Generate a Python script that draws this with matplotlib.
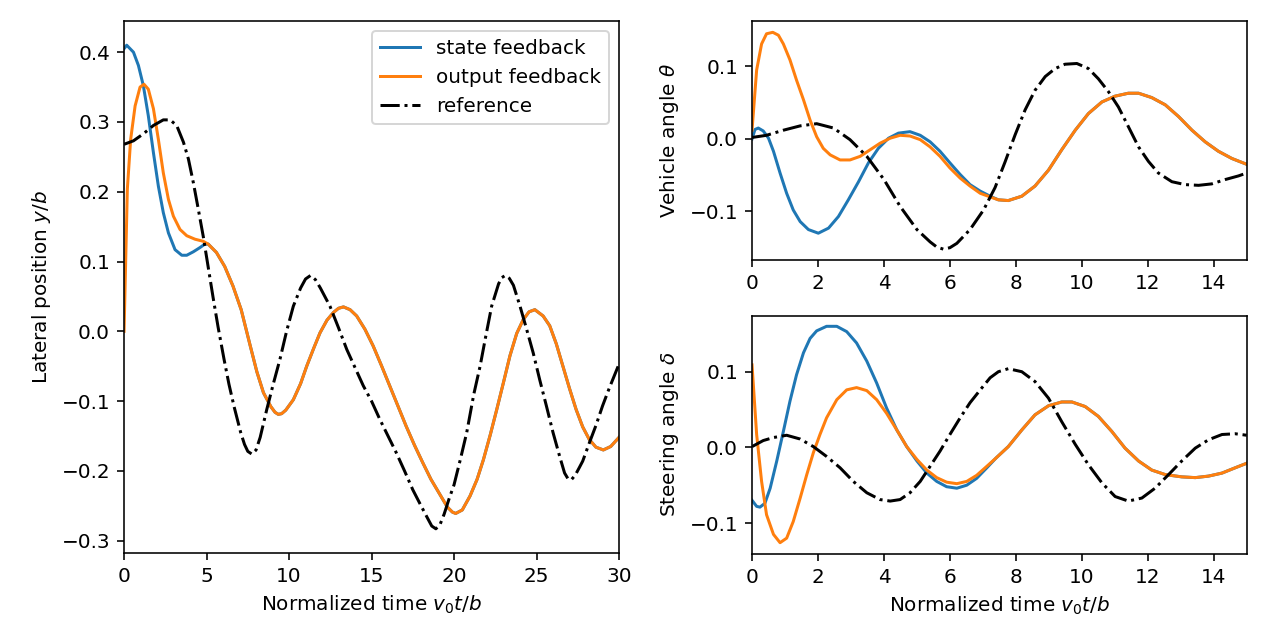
import matplotlib
matplotlib.use("Agg")
import matplotlib.pyplot as plt

# lateral position y/b (left panel)
t_left_of = [0, 0.2, 0.4, 0.67, 0.97, 1.21, 1.47, 1.78, 2.08, 2.38, 2.69, 2.99, 3.39, 3.8,
             4.3, 4.8, 5.1, 5.6, 6.1, 6.6, 7.1, 7.64, 8.05, 8.45, 8.9, 9.15, 9.35, 9.55,
             9.8, 10.26, 10.7, 11.07, 11.5, 11.88, 12.3, 12.69, 13.0, 13.3, 13.7, 14.1,
             14.6, 15.1, 15.6, 16.1, 16.6, 17.1, 17.6, 18.1, 18.6, 19.15, 19.6, 19.9, 20.1,
             20.5, 20.97, 21.4, 21.78, 22.2, 22.59, 23.0, 23.39, 23.8, 24.2, 24.55, 24.9,
             25.4, 25.8, 26.2, 26.6, 27.0, 27.4, 27.8, 28.2, 28.6, 29.05, 29.5, 30.0]
y_output_fb = [0.0, 0.204, 0.275, 0.323, 0.350, 0.354, 0.347, 0.319, 0.275, 0.227, 0.189,
               0.165, 0.146, 0.137, 0.132, 0.129, 0.125, 0.113, 0.093, 0.065, 0.031,
               -0.020, -0.058, -0.088, -0.108, -0.116, -0.119, -0.118, -0.113, -0.098,
               -0.075, -0.050, -0.024, -0.002, 0.016, 0.027, 0.033, 0.035, 0.031, 0.022,
               0.003, -0.021, -0.049, -0.078, -0.107, -0.136, -0.163, -0.188, -0.212,
               -0.234, -0.252, -0.259, -0.261, -0.256, -0.236, -0.212, -0.184, -0.148,
               -0.112, -0.073, -0.035, -0.003, 0.017, 0.028, 0.031, 0.022, 0.008, -0.018,
               -0.050, -0.082, -0.112, -0.137, -0.155, -0.166, -0.170, -0.165, -0.152]

# state feedback differs only in the first ~5 time units
t_left_sf_head = [0, 0.16, 0.57, 0.87, 1.17, 1.47, 1.78, 2.08, 2.38, 2.69, 3.09, 3.5, 3.8,
                  4.2, 4.6, 4.9]
y_state_fb_head = [0.405, 0.410, 0.400, 0.381, 0.352, 0.309, 0.256, 0.208, 0.170, 0.141,
                   0.117, 0.109, 0.109, 0.114, 0.120, 0.125]

t_left_ref = [0, 0.57, 1.17, 1.78, 2.38, 2.79, 3.19, 3.6, 3.9, 4.2, 4.5, 4.8, 5.1, 5.4,
              5.7, 6.06, 6.36, 6.67, 7.07, 7.3, 7.5, 7.75, 8.0, 8.25, 8.65, 9.05, 9.45,
              9.85, 10.26, 10.7, 11.0, 11.3, 11.6, 11.9, 12.48, 13.0, 13.5, 14.0, 14.5,
              15.0, 15.5, 16.0, 16.5, 17.0, 17.5, 18.0, 18.4, 18.65, 18.9, 19.15, 19.4,
              19.7, 20.0, 20.4, 20.77, 21.2, 21.58, 21.9, 22.28, 22.7, 22.9, 23.1, 23.35,
              23.6, 24.0, 24.4, 24.8, 25.2, 25.6, 26.0, 26.4, 26.7, 26.9, 27.1, 27.35, 27.6,
              27.8, 28.2, 28.6, 29.0, 29.4, 30.0]
y_reference = [0.268, 0.273, 0.283, 0.295, 0.303, 0.303, 0.295, 0.271, 0.247, 0.213, 0.175,
               0.136, 0.092, 0.048, 0.006, -0.040, -0.076, -0.108, -0.145, -0.162, -0.172,
               -0.176, -0.170, -0.152, -0.112, -0.075, -0.040, 0.0, 0.036, 0.062, 0.075,
               0.080, 0.074, 0.062, 0.036, 0.005, -0.026, -0.052, -0.078, -0.100, -0.126,
               -0.150, -0.174, -0.200, -0.227, -0.250, -0.268, -0.279, -0.283, -0.277,
               -0.262, -0.240, -0.220, -0.182, -0.145, -0.090, -0.050, -0.010, 0.036,
               0.068, 0.077, 0.080, 0.076, 0.066, 0.036, 0.003, -0.031, -0.070, -0.107,
               -0.145, -0.179, -0.203, -0.211, -0.213, -0.206, -0.195, -0.186, -0.160,
               -0.135, -0.107, -0.082, -0.047]

# vehicle angle theta (right top)
t_th = [0, 0.14, 0.29, 0.44, 0.63, 0.8, 0.95, 1.15, 1.35, 1.56, 1.76, 1.96, 2.16, 2.37,
        2.67, 2.97, 3.28, 3.58, 3.88, 4.19, 4.49, 4.79, 5.1, 5.4, 5.7, 6.0, 6.31, 6.61,
        6.92, 7.22, 7.47, 7.77, 8.18, 8.58, 8.99, 9.39, 9.8, 10.2, 10.61, 11.01, 11.41,
        11.72, 12.12, 12.53, 12.93, 13.34, 13.74, 14.14, 14.55, 15.0]
th_output_fb = [0.012, 0.095, 0.131, 0.145, 0.147, 0.143, 0.131, 0.109, 0.081, 0.054, 0.026,
                0.003, -0.013, -0.022, -0.029, -0.029, -0.024, -0.015, -0.006, 0.001, 0.005,
                0.004, -0.001, -0.011, -0.024, -0.040, -0.054, -0.065, -0.075, -0.080,
                -0.084, -0.085, -0.079, -0.065, -0.043, -0.015, 0.012, 0.035, 0.051, 0.059,
                0.063, 0.063, 0.057, 0.047, 0.031, 0.012, -0.004, -0.017, -0.027, -0.035]
t_th_sf_head = [0, 0.09, 0.19, 0.34, 0.5, 0.65, 0.85, 1.05, 1.25, 1.46, 1.71, 2.01, 2.32,
                2.62, 2.92, 3.23, 3.53, 3.83, 4.14, 4.44, 4.79, 5.1, 5.4, 5.7, 6.0, 6.31,
                6.61, 6.92, 7.22]
th_state_fb_head = [0.0, 0.013, 0.015, 0.011, 0.001, -0.017, -0.047, -0.075, -0.098, -0.114,
                    -0.125, -0.130, -0.123, -0.107, -0.084, -0.059, -0.033, -0.013, 0.001,
                    0.008, 0.010, 0.005, -0.004, -0.017, -0.033, -0.049, -0.063, -0.072,
                    -0.079]
t_th_ref = [0, 0.44, 0.95, 1.46, 1.96, 2.47, 2.97, 3.48, 4.0, 4.49, 5.0, 5.4, 5.6, 5.8, 6.0,
            6.21, 6.61, 7.02, 7.37, 7.67, 7.98, 8.28, 8.58, 8.89, 9.19, 9.49, 9.85, 10.2,
            10.5, 10.81, 11.11, 11.41, 11.72, 12.02, 12.32, 12.73, 13.13, 13.54, 13.94,
            14.35, 14.75, 15.0]
th_reference = [0.002, 0.005, 0.012, 0.018, 0.021, 0.015, -0.001, -0.024, -0.056, -0.093,
                -0.125, -0.142, -0.149, -0.152, -0.150, -0.144, -0.125, -0.098, -0.067,
                -0.032, 0.006, 0.040, 0.067, 0.086, 0.097, 0.103, 0.104, 0.097, 0.083,
                0.065, 0.044, 0.017, -0.011, -0.031, -0.047, -0.059, -0.063, -0.064,
                -0.062, -0.056, -0.051, -0.047]

# steering angle delta (right bottom)
t_de = [0, 0.14, 0.29, 0.44, 0.65, 0.85, 1.05, 1.25, 1.46, 1.66, 1.86, 2.06, 2.26, 2.57,
        2.87, 3.17, 3.48, 3.78, 4.08, 4.39, 4.69, 5.0, 5.3, 5.6, 5.9, 6.21, 6.51, 6.81,
        7.12, 7.4, 7.77, 8.18, 8.58, 8.99, 9.39, 9.7, 10.1, 10.5, 10.91, 11.31, 11.72,
        12.12, 12.53, 13.03, 13.44, 13.84, 14.25, 14.65, 15.0]
de_output_fb = [0.109, 0.017, -0.045, -0.089, -0.115, -0.126, -0.120, -0.098, -0.067,
                -0.036, -0.007, 0.017, 0.039, 0.063, 0.076, 0.079, 0.075, 0.063, 0.045,
                0.023, 0.001, -0.016, -0.030, -0.040, -0.046, -0.048, -0.045, -0.037,
                -0.025, -0.014, 0.001, 0.023, 0.043, 0.055, 0.060, 0.060, 0.054, 0.041,
                0.021, -0.001, -0.018, -0.030, -0.036, -0.039, -0.040, -0.038, -0.034,
                -0.027, -0.021]
t_de_sf_head = [0, 0.14, 0.24, 0.39, 0.55, 0.75, 0.95, 1.15, 1.35, 1.56, 1.76, 1.96, 2.26,
                2.57, 2.87, 3.17, 3.48, 3.78, 4.08, 4.39, 4.69, 5.0, 5.3, 5.6, 5.9, 6.21,
                6.51, 6.81, 7.12]
de_state_fb_head = [-0.070, -0.078, -0.079, -0.074, -0.054, -0.018, 0.021, 0.061, 0.096,
                    0.125, 0.144, 0.154, 0.160, 0.160, 0.153, 0.138, 0.114, 0.085, 0.052,
                    0.023, 0.001, -0.018, -0.034, -0.045, -0.052, -0.054, -0.050, -0.041,
                    -0.027]
t_de_ref = [0, 0.34, 0.65, 1.05, 1.46, 1.86, 2.26, 2.67, 3.07, 3.48, 3.88, 4.19, 4.49, 4.79,
            5.1, 5.4, 5.7, 6.0, 6.31, 6.61, 6.92, 7.22, 7.47, 7.77, 8.18, 8.58, 8.99, 9.39,
            9.8, 10.2, 10.61, 11.01, 11.41, 11.82, 12.22, 12.63, 13.03, 13.44, 13.84, 14.25,
            14.65, 15.0]
de_reference = [0.001, 0.009, 0.013, 0.016, 0.011, 0.001, -0.012, -0.027, -0.045, -0.060,
                -0.069, -0.071, -0.069, -0.060, -0.045, -0.025, -0.005, 0.017, 0.039, 0.059,
                0.076, 0.092, 0.100, 0.104, 0.100, 0.087, 0.065, 0.034, 0.004, -0.023,
                -0.047, -0.065, -0.071, -0.067, -0.054, -0.036, -0.018, -0.001, 0.010,
                0.017, 0.018, 0.016]


def tail(t_all, v_all, t_start):
    # the state feedback curve sits under the output feedback curve after t_start
    tt = [t for t in t_all if t > t_start]
    vv = [v for t, v in zip(t_all, v_all) if t > t_start]
    return tt, vv


fig = plt.figure(figsize=(1262 / 144, 641 / 144), dpi=144)
ax_y = fig.add_axes([0.0983, 0.1373, 0.3922, 0.8299])
ax_th = fig.add_axes([0.5959, 0.5944, 0.3920, 0.3721])
ax_de = fig.add_axes([0.5959, 0.1365, 0.3920, 0.3713])

# left: lateral position
tt, vv = tail(t_left_of, y_output_fb, t_left_sf_head[-1])
ax_y.plot(t_left_sf_head + tt, y_state_fb_head + vv, color='tab:blue', label='state feedback')
ax_y.plot(t_left_of, y_output_fb, color='tab:orange', label='output feedback')
ax_y.plot(t_left_ref, y_reference, 'k-.', label='reference')
ax_y.set_xlim(0, 30)
ax_y.set_xlabel('Normalized time $v_0 t/b$')
ax_y.set_ylabel('Lateral position $y/b$')
ax_y.legend(loc='upper right')

# right top: vehicle angle
tt, vv = tail(t_th, th_output_fb, t_th_sf_head[-1])
ax_th.plot(t_th_sf_head + tt, th_state_fb_head + vv, color='tab:blue')
ax_th.plot(t_th, th_output_fb, color='tab:orange')
ax_th.plot(t_th_ref, th_reference, 'k-.')
ax_th.set_xlim(0, 15)
ax_th.set_ylabel(r'Vehicle angle $\theta$')

# right bottom: steering angle
tt, vv = tail(t_de, de_output_fb, t_de_sf_head[-1])
ax_de.plot(t_de_sf_head + tt, de_state_fb_head + vv, color='tab:blue')
ax_de.plot(t_de, de_output_fb, color='tab:orange')
ax_de.plot(t_de_ref, de_reference, 'k-.')
ax_de.set_xlim(0, 15)
ax_de.set_xlabel('Normalized time $v_0 t/b$')
ax_de.set_ylabel(r'Steering angle $\delta$')

plt.savefig('out.png', dpi=144)
